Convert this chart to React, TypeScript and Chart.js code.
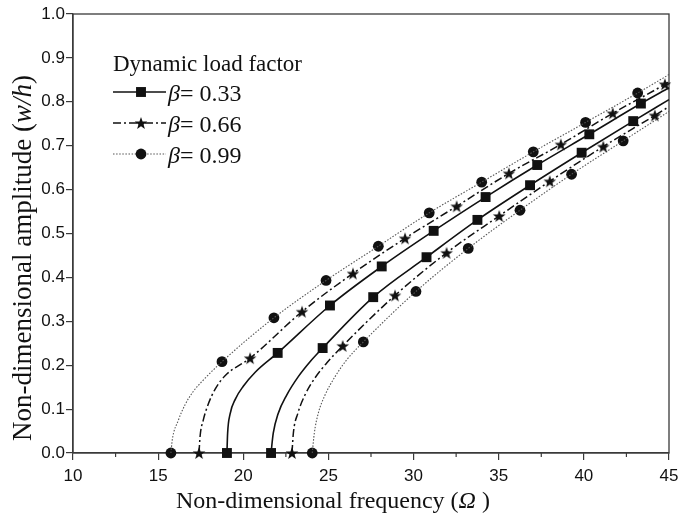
import React, { useEffect, useRef } from 'react';
import { Chart, registerables } from 'chart.js';

Chart.register(...registerables);

type P = [number, number];

// ---- data (Ω, w/h) ----
const betaLabels = ['0.33', '0.66', '0.99'];

// β = 0.33, upper (left) branch
const b033UpperMarkers: P[] = [[19.04, 0], [22.02, 0.228], [25.09, 0.336], [28.13, 0.425], [31.18, 0.506], [34.23, 0.583], [37.26, 0.656], [40.32, 0.726], [43.35, 0.796]];
const b033UpperCurve: P[] = [[19.08, 0.045], [19.22, 0.088], [19.55, 0.124], [20.0, 0.152], [20.7, 0.184], [45, 0.832]];
// β = 0.33, lower (right) branch
const b033LowerMarkers: P[] = [[21.63, 0], [24.66, 0.239], [27.63, 0.355], [30.76, 0.446], [33.75, 0.531], [36.84, 0.61], [39.87, 0.684], [42.9, 0.756]];
const b033LowerCurve: P[] = [[21.76, 0.045], [22.05, 0.09], [22.55, 0.132], [23.23, 0.174], [23.92, 0.208], [45, 0.805]];

// β = 0.66
const b066UpperMarkers: P[] = [[17.4, 0], [20.4, 0.216], [23.45, 0.322], [26.44, 0.409], [29.5, 0.489], [32.53, 0.562], [35.6, 0.637], [38.65, 0.703], [41.7, 0.774], [44.76, 0.84]];
const b066UpperCurve: P[] = [[17.46, 0.037], [17.65, 0.075], [17.95, 0.112], [18.34, 0.145], [18.93, 0.176], [45, 0.846]];
const b066LowerMarkers: P[] = [[22.86, 0], [25.84, 0.244], [28.91, 0.359], [31.94, 0.456], [35.03, 0.54], [38.0, 0.619], [41.14, 0.698], [44.17, 0.769]];
const b066LowerCurve: P[] = [[22.94, 0.045], [23.2, 0.09], [23.62, 0.132], [24.21, 0.171], [24.9, 0.205], [45, 0.789]];

// β = 0.99
const b099UpperMarkers: P[] = [[15.75, 0], [18.75, 0.208], [21.8, 0.308], [24.86, 0.393], [27.93, 0.471], [30.92, 0.547], [34.0, 0.617], [37.03, 0.686], [40.1, 0.753], [43.16, 0.82]];
const b099UpperCurve: P[] = [[15.83, 0.03], [16.18, 0.074], [16.58, 0.11], [17.06, 0.14], [17.65, 0.166], [45, 0.862]];
const b099LowerMarkers: P[] = [[24.05, 0], [27.05, 0.253], [30.14, 0.368], [33.21, 0.466], [36.25, 0.553], [39.28, 0.635], [42.31, 0.711]];
const b099LowerCurve: P[] = [[24.17, 0.045], [24.4, 0.09], [24.8, 0.132], [25.39, 0.174], [26.07, 0.212], [45, 0.778]];

const xMinorTicks = [12.5, 17.5, 22.5, 27.5, 32.5, 37.5, 42.5];

const SERIF = '"Liberation Serif", "Times New Roman", serif';
const SANS = '"Liberation Sans", Arial, sans-serif';
const INK = '#111';
const AXIS = '#3a3a3a';

function makeStar(size: number, outer: number, inner: number): HTMLCanvasElement {
  const c = document.createElement('canvas');
  c.width = size;
  c.height = size;
  const g = c.getContext('2d')!;
  g.fillStyle = INK;
  g.beginPath();
  for (let i = 0; i < 10; i++) {
    const r = i % 2 === 0 ? outer : inner;
    const a = -Math.PI / 2 + (i * Math.PI) / 5;
    const px = size / 2 + r * Math.cos(a);
    const py = size / 2 + 0.6 + r * Math.sin(a);
    if (i === 0) g.moveTo(px, py);
    else g.lineTo(px, py);
  }
  g.closePath();
  g.fill();
  return c;
}

const toXY = (arr: P[]) => arr.map(([x, y]) => ({ x, y }));
const merged = (a: P[], b: P[]) => toXY([...a, ...b].sort((p, q) => p[0] - q[0]));

type Run = { t: string; i?: boolean };
function drawRuns(ctx: CanvasRenderingContext2D, runs: Run[], size: number, x: number, y: number, align: 'left' | 'center') {
  const fontOf = (r: Run) => `${r.i ? 'italic ' : ''}${size}px ${SERIF}`;
  let total = 0;
  for (const r of runs) {
    ctx.font = fontOf(r);
    total += ctx.measureText(r.t).width;
  }
  let cx = align === 'center' ? x - total / 2 : x;
  ctx.textAlign = 'left';
  ctx.textBaseline = 'alphabetic';
  for (const r of runs) {
    ctx.font = fontOf(r);
    ctx.fillText(r.t, cx, y);
    cx += ctx.measureText(r.t).width;
  }
}

export default function App() {
  const ref = useRef<HTMLCanvasElement>(null);

  useEffect(() => {
    if (!ref.current) return;
    const star = makeStar(14, 6.6, 2.7);

    const styles = [
      { dash: [] as number[], width: 1.6, color: INK, point: 'rect' as any, radius: 7 },
      { dash: [8, 3, 2, 3], width: 1.5, color: INK, point: star as any, radius: 6 },
      { dash: [1.5, 1.6], width: 1.1, color: '#555', point: 'circle' as any, radius: 5.4 },
    ];
    const branches: [P[], P[], number][] = [
      [b033UpperMarkers, b033UpperCurve, 0],
      [b033LowerMarkers, b033LowerCurve, 0],
      [b066UpperMarkers, b066UpperCurve, 1],
      [b066LowerMarkers, b066LowerCurve, 1],
      [b099UpperMarkers, b099UpperCurve, 2],
      [b099LowerMarkers, b099LowerCurve, 2],
    ];

    const datasets: any[] = [];
    for (const [mk, cv, s] of branches) {
      const st = styles[s];
      datasets.push({
        label: `β = ${betaLabels[s]} line`,
        data: merged(mk, cv),
        showLine: true,
        borderColor: st.color,
        borderWidth: st.width,
        borderDash: st.dash,
        pointRadius: 0,
        pointHoverRadius: 0,
        cubicInterpolationMode: 'monotone',
        fill: false,
        clip: false,
      });
      datasets.push({
        label: `β = ${betaLabels[s]}`,
        data: toXY(mk),
        showLine: false,
        pointStyle: st.point,
        pointRadius: st.radius,
        pointBackgroundColor: INK,
        pointBorderColor: INK,
        pointBorderWidth: 0,
        clip: false,
      });
    }

    const decor = {
      id: 'decor',
      beforeDatasetsDraw(chart: any) {
        const { ctx, chartArea: a, scales } = chart;
        ctx.save();
        ctx.strokeStyle = AXIS;
        ctx.lineWidth = 1.3;
        ctx.strokeRect(a.left, a.top, a.right - a.left, a.bottom - a.top);
        ctx.lineWidth = 1.2;
        for (const v of xMinorTicks) {
          const px = scales.x.getPixelForValue(v);
          ctx.beginPath();
          ctx.moveTo(px, a.bottom);
          ctx.lineTo(px, a.bottom + 4);
          ctx.stroke();
        }
        ctx.restore();
      },
      afterDraw(chart: any) {
        const { ctx } = chart;
        ctx.save();
        ctx.fillStyle = INK;
        // x title
        drawRuns(ctx, [{ t: 'Non-dimensional frequency (' }, { t: 'Ω', i: true }, { t: ' )' }], 24, 333, 508, 'center');
        // y title
        ctx.save();
        ctx.translate(31, 258);
        ctx.rotate(-Math.PI / 2);
        drawRuns(ctx, [{ t: 'Non-dimensional amplitude (' }, { t: 'w/h', i: true }, { t: ')' }], 27, 0, 0, 'center');
        ctx.restore();
        // legend
        ctx.font = `23px ${SERIF}`;
        ctx.textAlign = 'left';
        ctx.fillText('Dynamic load factor', 113, 71);
        const rowsY = [92, 123, 154];
        for (let s = 0; s < 3; s++) {
          const st = styles[s];
          const y = rowsY[s];
          ctx.strokeStyle = st.color;
          ctx.lineWidth = st.width;
          ctx.setLineDash(st.dash);
          ctx.beginPath();
          ctx.moveTo(113, y);
          ctx.lineTo(166, y);
          ctx.stroke();
          ctx.setLineDash([]);
          ctx.fillStyle = INK;
          const mx = 141;
          if (s === 0) {
            const h = st.radius * Math.SQRT1_2;
            ctx.fillRect(mx - h, y - h, 2 * h, 2 * h);
          } else if (s === 1) {
            ctx.drawImage(star, mx - star.width / 2, y - star.height / 2);
          } else {
            ctx.beginPath();
            ctx.arc(mx, y, st.radius, 0, Math.PI * 2);
            ctx.fill();
          }
          drawRuns(ctx, [{ t: 'β', i: true }, { t: '= ' + betaLabels[s] }], 24, 168, y + 9, 'left');
        }
        ctx.restore();
      },
    };

    const chart = new Chart(ref.current, {
      type: 'scatter',
      data: { datasets },
      options: {
        animation: false,
        responsive: false,
        layout: { padding: { left: 0, top: 14, right: 11, bottom: 0 } },
        plugins: { legend: { display: false }, tooltip: { enabled: false } },
        scales: {
          x: {
            type: 'linear',
            min: 10,
            max: 45,
            ticks: { stepSize: 5, color: INK, font: { family: SANS, size: 17 }, padding: 6, maxRotation: 0 },
            grid: { drawOnChartArea: false, drawTicks: true, tickLength: 7, color: AXIS, lineWidth: 1.2 },
            border: { display: true, color: AXIS, width: 1.3 },
            afterFit: (s: any) => { s.height = 65; s.paddingLeft = 0; s.paddingRight = 0; },
          },
          y: {
            type: 'linear',
            min: 0,
            max: 1,
            ticks: { stepSize: 0.1, color: INK, font: { family: SANS, size: 17 }, padding: 1, callback: (v: any) => Number(v).toFixed(1) },
            grid: { drawOnChartArea: false, drawTicks: true, tickLength: 7, color: AXIS, lineWidth: 1.2 },
            border: { display: true, color: AXIS, width: 1.3 },
            afterFit: (s: any) => { s.width = 73; s.paddingTop = 0; s.paddingBottom = 0; },
          },
        },
      },
      plugins: [decor],
    } as any);

    return () => chart.destroy();
  }, []);

  return (
    <div style={{ position: 'fixed', left: 0, top: 0, width: 680, height: 518, background: '#fff' }}>
      <canvas ref={ref} width={680} height={518} style={{ display: 'block', width: 680, height: 518 }} />
    </div>
  );
}
